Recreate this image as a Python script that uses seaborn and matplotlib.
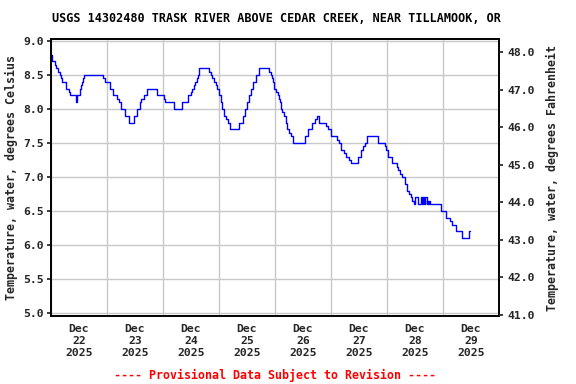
import numpy as np
import pandas as pd
import matplotlib
matplotlib.use("Agg")
import matplotlib.pyplot as plt
import matplotlib.dates as mdates
from matplotlib.ticker import FixedLocator, FormatStrFormatter
import seaborn as sns

# ---- data (hours since 2025-12-22 00:00, water temperature degC, step changes) ----
hours = [0, 0.25, 1.86, 2.29, 3.0, 3.71, 4.43, 4.86, 6.57, 7.71, 8.29, 10.57, 11.0,
         12.43, 12.86, 13.29, 13.71, 14.14, 22.29, 23.0, 25.14, 26.57, 28.43, 29.0,
         29.86, 30.14, 31.86, 33.57, 35.71, 37.0, 38.14, 38.71, 39.71, 41.29, 45.57,
         48.43, 48.86, 52.86, 56.29, 58.86, 59.86, 60.57, 61.29, 61.71, 62.43, 63.0,
         63.57, 67.86, 68.43, 69.14, 69.86, 70.57, 71.29, 72.0, 72.71, 73.43, 74.14,
         74.86, 75.71, 76.71, 80.57, 82.43, 83.14, 84.14, 85.0, 85.71, 86.43, 87.71,
         89.14, 93.43, 94.2, 94.57, 95.0, 95.71, 96.43, 97.14, 97.71, 98.14, 98.57,
         99.14, 99.86, 100.57, 101.29, 102.0, 102.71, 103.86, 108.86, 110.29, 111.71,
         113.14, 113.86, 115.0, 117.86, 118.86, 120.0, 122.43, 123.43, 124.14, 125.57,
         126.29, 127.71, 128.43, 131.71, 132.86, 133.86, 134.57, 135.57, 140.29,
         143.14, 143.57, 144.29, 146.29, 148.14, 148.86, 149.57, 150.57, 151.71,
         152.71, 153.57, 154.14, 154.86, 155.71, 156.0, 157.14, 158.43, 158.86,
         159.29, 159.86, 160.29, 161.0, 161.29, 161.71, 162.14, 162.43, 167.29,
         169.14, 171.0, 171.71, 173.43, 176.0, 179.14, 179.57]
temps_c = [8.8, 8.7, 8.65, 8.6, 8.55, 8.5, 8.45, 8.4, 8.3, 8.25, 8.2, 8.1, 8.2,
           8.3, 8.35, 8.4, 8.45, 8.5, 8.45, 8.4, 8.3, 8.2, 8.15, 8.1,
           8.05, 8.0, 7.9, 7.8, 7.9, 8.0, 8.1, 8.15, 8.2, 8.3, 8.2,
           8.15, 8.1, 8.0, 8.1, 8.2, 8.25, 8.3, 8.35, 8.4, 8.45, 8.5,
           8.6, 8.55, 8.5, 8.45, 8.4, 8.35, 8.3, 8.2, 8.1, 8.0, 7.9,
           7.85, 7.8, 7.7, 7.8, 7.9, 8.0, 8.1, 8.2, 8.3, 8.4, 8.5,
           8.6, 8.55, 8.5, 8.45, 8.4, 8.3, 8.25, 8.2, 8.15, 8.1, 8.0,
           7.95, 7.9, 7.8, 7.7, 7.65, 7.6, 7.5, 7.6, 7.7, 7.8,
           7.85, 7.9, 7.8, 7.75, 7.7, 7.6, 7.55, 7.5, 7.4, 7.35,
           7.3, 7.25, 7.2, 7.3, 7.4, 7.45, 7.5, 7.6, 7.5,
           7.45, 7.4, 7.3, 7.2, 7.15, 7.1, 7.05, 7.0, 6.9,
           6.8, 6.75, 6.7, 6.65, 6.6, 6.7, 6.6, 6.7, 6.6,
           6.7, 6.6, 6.7, 6.6, 6.65, 6.6, 6.65, 6.6, 6.5,
           6.4, 6.35, 6.3, 6.2, 6.1, 6.2, 6.2]
assert len(hours) == len(temps_c)

title = "USGS 14302480 TRASK RIVER ABOVE CEDAR CREEK, NEAR TILLAMOOK, OR"
ylabel_c = "Temperature, water, degrees Celsius"
ylabel_f = "Temperature, water, degrees Fahrenheit"
footer = "---- Provisional Data Subject to Revision ----"
c_ticks = [5.0, 5.5, 6.0, 6.5, 7.0, 7.5, 8.0, 8.5, 9.0]
f_ticks = [41.0, 42.0, 43.0, 44.0, 45.0, 46.0, 47.0, 48.0]

start = pd.Timestamp("2025-12-22 00:00")
df = pd.DataFrame({"time": start + pd.to_timedelta(hours, unit="h"),
                   "temp": temps_c})

sns.set_theme(style="white")
FONT = ["DejaVu Sans Mono"]
plt.rcParams["font.family"] = FONT
plt.rcParams["font.weight"] = "bold"

fig = plt.figure(figsize=(5.76, 3.84), dpi=100)
ax = fig.add_axes([51 / 576, 1 - 316 / 384, (499 - 51) / 576, (316 - 39.3) / 384])

sns.lineplot(data=df, x="time", y="temp", ax=ax, color="#0000FF", linewidth=1.0,
             drawstyle="steps-post", estimator=None, sort=True)

ax.set_xlim(pd.Timestamp("2025-12-22"), pd.Timestamp("2025-12-30"))
ax.set_ylim(4.956, 9.025)
ax.yaxis.set_major_locator(FixedLocator(c_ticks))
ax.yaxis.set_major_formatter(FormatStrFormatter("%.1f"))

ax.xaxis.set_major_locator(mdates.DayLocator())
ax.xaxis.set_major_formatter(plt.NullFormatter())
ax.xaxis.set_minor_locator(mdates.HourLocator(byhour=[12]))
ax.xaxis.set_minor_formatter(mdates.DateFormatter("%b\n%d\n%Y"))
ax.tick_params(axis="x", which="major", length=0)
ax.tick_params(axis="x", which="minor", length=0, pad=6, labelsize=8.2)
ax.tick_params(axis="y", which="major", length=3, direction="out", labelsize=8.2,
               pad=2, left=True)
for lab in ax.get_xticklabels(minor=True):
    lab.set_linespacing(1.25)

ax.grid(True, which="major", color="#C8C8C8", linewidth=1.0)
ax.set_axisbelow(True)
for sp in ax.spines.values():
    sp.set_color("black")
    sp.set_linewidth(1.4)

ax.set_xlabel("")
ax.set_ylabel(ylabel_c, fontsize=8.4, fontweight="bold", labelpad=4)

ax2 = ax.twinx()
ax2.set_ylim(40.97, 48.35)
ax2.yaxis.set_major_locator(FixedLocator(f_ticks))
ax2.yaxis.set_major_formatter(FormatStrFormatter("%.1f"))
ax2.tick_params(axis="y", length=3, direction="out", labelsize=8.2, pad=3, right=True)
ax2.set_ylabel(ylabel_f, fontsize=8.4, fontweight="bold", labelpad=8)
ax2.grid(False)
for sp in ax2.spines.values():
    sp.set_visible(False)

fig.text(276 / 576, 1 - 19 / 384, title, ha="center", va="center", fontsize=8.45,
         fontweight="bold", color="black")
fig.text(275 / 576, 1 - 375 / 384, footer, ha="center", va="center", fontsize=8.4,
         fontweight="bold", color="#FF0000")

fig.savefig("out.png", dpi=100)
